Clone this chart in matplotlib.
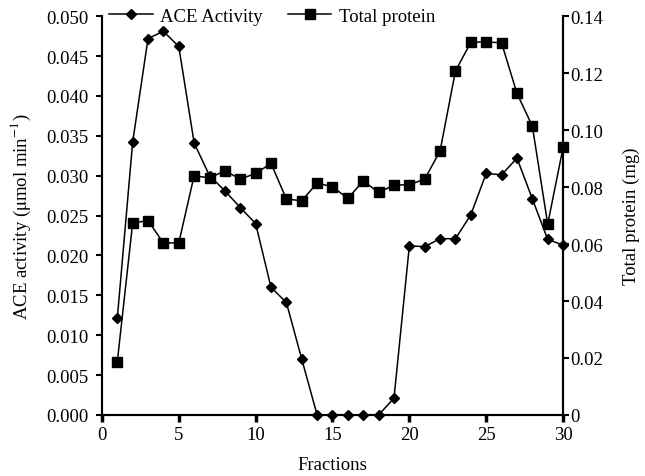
import numpy as np
import matplotlib
matplotlib.use("Agg")
import matplotlib.pyplot as plt
from matplotlib.ticker import FuncFormatter

plt.rcParams['font.family'] = ['Liberation Serif', 'DejaVu Serif']
plt.rcParams['mathtext.fontset'] = 'stix'

fractions = np.arange(1, 31)
ace = [0.0121, 0.0342, 0.0472, 0.0481, 0.0462, 0.0341, 0.0300, 0.0281, 0.0260, 0.0240,
       0.0160, 0.0141, 0.0070, 0.0, 0.0, 0.0, 0.0, 0.0, 0.0021, 0.0212,
       0.0211, 0.0221, 0.0221, 0.0251, 0.0303, 0.0301, 0.0322, 0.0271, 0.0220, 0.0213]
protein = [0.0186, 0.0674, 0.0682, 0.0604, 0.0604, 0.0840, 0.0832, 0.0857, 0.0828, 0.0848,
           0.0883, 0.0758, 0.0752, 0.0814, 0.0801, 0.0760, 0.0822, 0.0781, 0.0807, 0.0808,
           0.0828, 0.0927, 0.1208, 0.1308, 0.1310, 0.1306, 0.1129, 0.1014, 0.0670, 0.0939]

fs = 13.5

fig = plt.figure(figsize=(6.45, 4.77), dpi=100)
ax = fig.add_axes([0.158, 0.128, 0.715, 0.836])
ax2 = ax.twinx()

l1, = ax.plot(fractions, ace, color='black', lw=1.1, marker='D', ms=5,
              clip_on=False, zorder=3)
l2, = ax2.plot(fractions, protein, color='black', lw=1.1, marker='s', ms=7,
               clip_on=False, zorder=3)

ax.set_xlim(0, 30)
ax.set_ylim(0, 0.05)
ax2.set_ylim(0, 0.14)
ax.set_xticks(range(0, 31, 5))
ax.set_yticks(np.arange(0, 0.0501, 0.005))
ax2.set_yticks(np.arange(0, 0.1401, 0.02))
ax.yaxis.set_major_formatter(FuncFormatter(lambda v, p: f"{v:.3f}"))
ax2.yaxis.set_major_formatter(FuncFormatter(lambda v, p: "0" if abs(v) < 1e-9 else f"{v:.2f}"))

for a in (ax, ax2):
    a.spines['top'].set_visible(False)
    for s in a.spines.values():
        s.set_linewidth(1.5)
    a.tick_params(labelsize=fs, width=1.5, length=4, direction='out')
ax.tick_params(axis='y', pad=6)
ax.tick_params(axis='x', length=5, width=2.5, pad=3)
ax2.tick_params(axis='y', pad=1)

ax.set_xlabel('Fractions', fontsize=fs, labelpad=9)
ax.set_ylabel(r'ACE activity ($\mathrm{\mu}$mol min$^{-1}$)', fontsize=fs, labelpad=9)
ax2.set_ylabel('Total protein (mg)', fontsize=fs, labelpad=14)

ax2.legend([l1, l2], ['ACE Activity', 'Total protein'], loc='center left',
           bbox_to_anchor=(-0.008, 1.0), ncol=2, frameon=False, fontsize=fs,
           handlelength=2.3, columnspacing=1.35, handletextpad=0.4,
           borderaxespad=0.2)

fig.savefig('out.png', dpi=100)
